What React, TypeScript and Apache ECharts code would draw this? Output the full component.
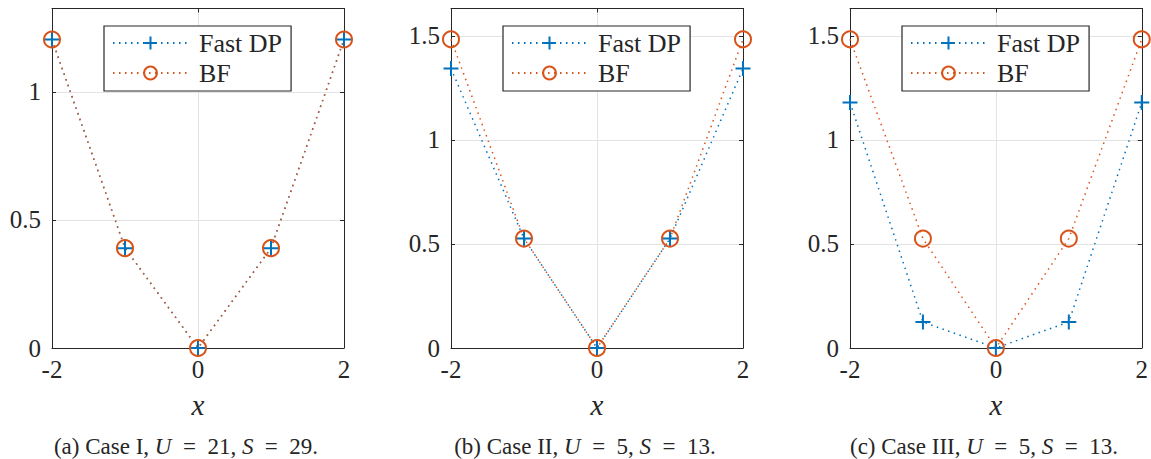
import React, { useEffect, useRef } from "react";
import * as echarts from "echarts";

const xValues = [-2, -1, 0, 1, 2];
const fastA = [1.205, 0.39, 0, 0.39, 1.205];
const bfA = [1.205, 0.39, 0, 0.39, 1.205];
const fastB = [1.343, 0.526, 0, 0.526, 1.343];
const bfB = [1.484, 0.526, 0, 0.526, 1.484];
const fastC = [1.18, 0.125, 0, 0.125, 1.18];
const bfC = [1.484, 0.526, 0, 0.526, 1.484];
const yMaxes = [1.326, 1.632, 1.632];
const captions = [
  ["(a) Case I, ", "U", "\u2002=\u200221, ", "S", "\u2002=\u200229."],
  ["(b) Case II, ", "U", "\u2002=\u20025, ", "S", "\u2002=\u200213."],
  ["(c) Case III, ", "U", "\u2002=\u20025, ", "S", "\u2002=\u200213."],
];
const seriesNames = ["Fast DP", "BF"];

const BLUE = "#0072BD";
const ORANGE = "#D95319";
const AX = "#262626";
const FONT = "'Liberation Serif', 'Times New Roman', serif";

export default function App() {
  const ref = useRef<HTMLDivElement>(null);
  useEffect(() => {
    if (!ref.current) return;
    const chart = echarts.init(ref.current, undefined, { renderer: "svg" });
    const lefts = [52, 451, 850];
    const W = 292;
    const top = 8.5;
    const H = 339.5;
    const capCenters = [186, 585, 984];
    const data = [
      [fastA, bfA],
      [fastB, bfB],
      [fastC, bfC],
    ];
    const grid: any[] = [];
    const xAxis: any[] = [];
    const yAxis: any[] = [];
    const series: any[] = [];
    const legend: any[] = [];
    const title: any[] = [];
    const tickCommon = { show: true, inside: true, length: 4, lineStyle: { color: AX, width: 1 } };
    const lineCommon = { show: true, onZero: false, lineStyle: { color: AX, width: 1 } };
    lefts.forEach((l, i) => {
      grid.push({ left: l, top, width: W, height: H, containLabel: false });
      xAxis.push({
        type: "value",
        gridIndex: i,
        min: -2,
        max: 2,
        interval: 2,
        position: "bottom",
        axisLine: lineCommon,
        axisTick: tickCommon,
        axisLabel: {
          color: AX,
          fontFamily: FONT,
          fontSize: 25,
          margin: 9,
          formatter: (v: number) => String(v),
        },
        splitLine: { show: true, lineStyle: { color: "#e3e3e3", width: 1 } },
        name: "x",
        nameLocation: "middle",
        nameGap: 42,
        nameTextStyle: { color: AX, fontFamily: FONT, fontSize: 29, fontStyle: "italic" },
      });
      xAxis.push({
        type: "value",
        gridIndex: i,
        min: -2,
        max: 2,
        interval: 2,
        position: "top",
        axisLine: lineCommon,
        axisTick: tickCommon,
        axisLabel: { show: false },
        splitLine: { show: false },
      });
      yAxis.push({
        type: "value",
        gridIndex: i,
        min: 0,
        max: yMaxes[i],
        interval: 0.5,
        position: "left",
        axisLine: lineCommon,
        axisTick: tickCommon,
        axisLabel: {
          color: AX,
          fontFamily: FONT,
          fontSize: 25,
          margin: 11,
          showMaxLabel: false,
          formatter: (v: number) => String(v),
        },
        splitLine: { show: true, lineStyle: { color: "#e3e3e3", width: 1 } },
      });
      yAxis.push({
        type: "value",
        gridIndex: i,
        min: 0,
        max: yMaxes[i],
        interval: 0.5,
        position: "right",
        axisLine: lineCommon,
        axisTick: tickCommon,
        axisLabel: { show: false },
        splitLine: { show: false },
      });
      const [fast, bf] = data[i];
      series.push({
        type: "line",
        name: seriesNames[0],
        xAxisIndex: 2 * i,
        yAxisIndex: 2 * i,
        data: xValues.map((x, k) => [x, fast[k]]),
        symbol: "path://M5,0L5,10M0,5L10,5",
        symbolSize: 15,
        clip: false,
        itemStyle: { color: BLUE, borderColor: BLUE, borderWidth: 2 },
        lineStyle: { color: BLUE, width: 1.5, type: [1.5, 4.5] },
        emphasis: { disabled: true },
      });
      series.push({
        type: "line",
        name: seriesNames[1],
        xAxisIndex: 2 * i,
        yAxisIndex: 2 * i,
        data: xValues.map((x, k) => [x, bf[k]]),
        symbol: "circle",
        symbolSize: 16,
        clip: false,
        itemStyle: { color: "rgba(255,255,255,0)", borderColor: ORANGE, borderWidth: 2 },
        lineStyle: { color: ORANGE, width: 1.5, type: [1.5, 4.5] },
        emphasis: { disabled: true },
      });
      legend.push({
        data: seriesNames,
        orient: "vertical",
        left: l + 52,
        top: 26,
        padding: [4, 9, 5, 8],
        itemWidth: 75,
        itemHeight: 16,
        itemGap: 4,
        backgroundColor: "#fff",
        borderColor: AX,
        borderWidth: 1.2,
        borderRadius: 0,
        selectedMode: false,
        textStyle: { color: AX, fontFamily: FONT, fontSize: 26, padding: [0, 0, 0, 6] },
      });
      const c = captions[i];
      title.push({
        text: `${c[0]}{i|${c[1]}}${c[2]}{i|${c[3]}}${c[4]}`,
        left: capCenters[i],
        top: 435,
        textAlign: "center",
        padding: 0,
        textStyle: {
          color: AX,
          fontFamily: FONT,
          fontSize: 23,
          fontWeight: "normal",
          rich: { i: { fontFamily: FONT, fontSize: 23, fontStyle: "italic", color: AX } },
        },
      });
    });
    chart.setOption({
      animation: false,
      backgroundColor: "#fff",
      grid,
      xAxis,
      yAxis,
      series,
      legend,
      title,
    });
    return () => chart.dispose();
  }, []);
  return (
    <div
      ref={ref}
      style={{ position: "fixed", left: 0, top: 0, width: 1151, height: 459, background: "#fff" }}
    />
  );
}
